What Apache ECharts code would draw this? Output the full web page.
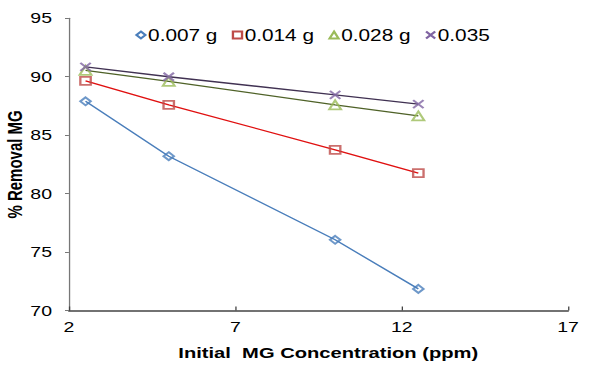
<!DOCTYPE html>
<html><head><meta charset="utf-8">
<script src="https://cdn.jsdelivr.net/npm/echarts@6/dist/echarts.min.js"></script>
<style>
html,body{margin:0;padding:0;background:#fff;overflow:hidden}
#wrap{width:589px;height:368px;overflow:hidden}
#c{width:453px;height:368px;transform:scaleX(1.3);transform-origin:0 0}
</style>
</head><body><div id="wrap"><div id="c"></div></div>
<script>
var concentrations = [2.5, 5, 10, 12.5];
var seriesNames = ['0.007 g', '0.014 g', '0.028 g', '0.035'];
var removal007 = [87.9, 83.2, 76.05, 71.85];
var removal014 = [89.65, 87.6, 83.75, 81.75];
var removal028 = [90.55, 89.6, 87.6, 86.65];
var removal035 = [90.85, 90.0, 88.45, 87.65];
var xTicks = [2, 7, 12, 17];
var yTicks = [70, 75, 80, 85, 90, 95];

var allValues = [removal007, removal014, removal028, removal035];
var markerColors = ['#4a7ebb', '#be4b48', '#9bbb59', '#8064a2'];
var lineColors = ['#4a7ebb', '#e01010', '#4f6228', '#403152'];
var symbols = ['diamond', 'rect', 'triangle', 'path://M0,0L10,10M10,0L0,10'];
var symbolSizes = [8, 8, 9, 8];

function pairs(v){ return concentrations.map(function(x,i){ return [x, v[i]]; }); }

var series = [];
allValues.forEach(function(v, i){
  series.push({
    name: seriesNames[i], type: 'line', data: pairs(v),
    symbol: 'none', silent: true, legendHoverLink: false,
    lineStyle: { color: lineColors[i], width: 1.3 }, z: 2
  });
});
allValues.forEach(function(v, i){
  series.push({
    name: seriesNames[i], type: 'scatter', data: pairs(v),
    symbol: symbols[i], symbolSize: symbolSizes[i],
    itemStyle: { color: 'rgba(0,0,0,0)', borderColor: markerColors[i], borderWidth: 1.8 }, z: 3
  });
});

var chart = echarts.init(document.getElementById('c'), null, {renderer: 'svg', width: 453, height: 368});
chart.setOption({
  animation: false,
  backgroundColor: '#fff',
  grid: { left: 53, right: 16, top: 18.3, bottom: 57.5, containLabel: false, outerBoundsMode: 'none' },
  legend: {
    top: 22, left: 99,
    data: seriesNames.map(function(n, i){ return { name: n, icon: symbols[i], itemStyle: { color: 'rgba(0,0,0,0)', borderColor: markerColors[i], borderWidth: 1.8 } }; }),
    itemWidth: 7, itemHeight: 7, itemGap: 11,
    textStyle: { fontFamily: 'Liberation Sans, Arial', fontSize: 16, color: '#000', padding: [0,0,0,-3] }
  },
  xAxis: {
    type: 'value', min: 2, max: 17, interval: 5,
    name: 'Initial  MG Concentration (ppm)', nameLocation: 'middle', nameGap: 34, nameMoveOverlap: false,
    nameTextStyle: { fontFamily: 'Liberation Sans, Arial', fontSize: 15.5, fontWeight: 'bold', color: '#000', padding: [0,0,0,15] },
    axisLine: { lineStyle: { color: '#444', width: 1.5 } },
    axisTick: { inside: true, length: 4, lineStyle: { color: '#444' } },
    axisLabel: { fontFamily: 'Liberation Sans, Arial', fontSize: 15, color: '#000', margin: 9,
      formatter: function(v){ return xTicks.indexOf(v) >= 0 ? String(v) : ''; } },
    splitLine: { show: false }
  },
  yAxis: {
    type: 'value', min: 70, max: 95, interval: 5,
    name: '% Removal MG', nameLocation: 'middle', nameGap: 34, nameRotate: 90, nameMoveOverlap: false,
    nameTextStyle: { fontFamily: 'Liberation Sans, Arial', fontSize: 15, fontWeight: 'bold', color: '#000' },
    axisLine: { show: true, lineStyle: { color: '#777', width: 1 } },
    axisTick: { show: true, inside: false, length: 3, lineStyle: { color: '#777' } },
    axisLabel: { fontFamily: 'Liberation Sans, Arial', fontSize: 15, color: '#000', margin: 13,
      formatter: function(v){ return yTicks.indexOf(v) >= 0 ? String(v) : ''; } },
    splitLine: { show: false }
  },
  series: series
});
</script></body></html>
